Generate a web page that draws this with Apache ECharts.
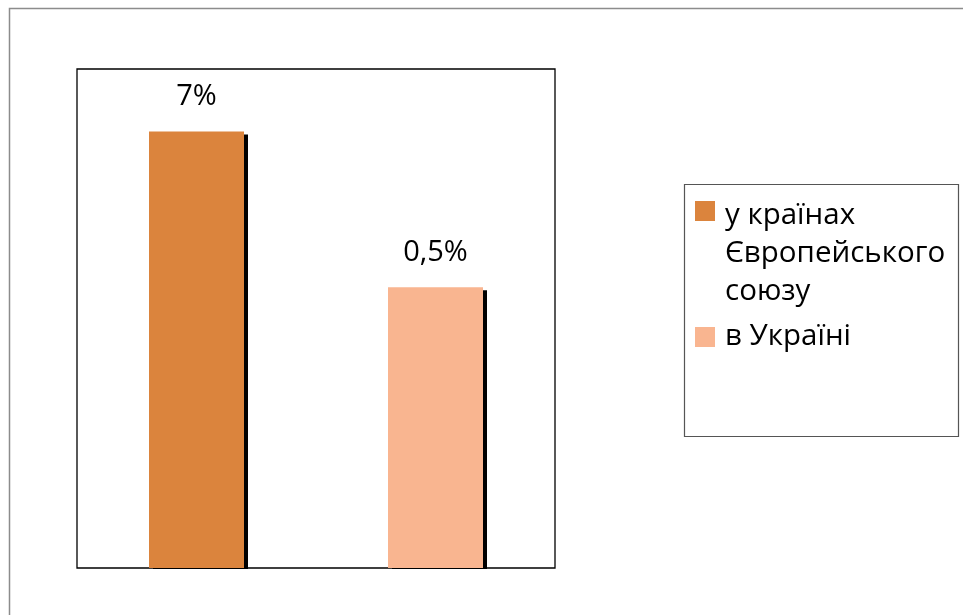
<!DOCTYPE html>
<html><head><meta charset="utf-8">
<script src="https://cdn.jsdelivr.net/npm/echarts@6/dist/echarts.min.js"></script>
<style>html,body{margin:0;padding:0;background:#fff}#c{width:963px;height:615px}</style>
</head><body><div id="c"></div>
<script>
const categories = ['ЄС', 'Україна'];
const seriesNames = ['у країнах\nЄвропейського\nсоюзу', 'в Україні'];
const barValues = [7, 4.5];
const barLabels = ['7%', '0,5%'];
const colors = ['#DB843D', '#F9B590'];

const FONT = 'Open Sans';
const chart = echarts.init(document.getElementById('c'), null, {renderer: 'canvas'});
const txt = {fontSize: 29.5, lineHeight: 38, color: '#000', fontFamily: FONT};

const option = {
  animation: false,
  backgroundColor: '#fff',
  grid: {left: 77, top: 69, width: 478, height: 499, show: true, borderColor: '#000', borderWidth: 1.3, backgroundColor: 'transparent', containLabel: false},
  xAxis: {type: 'category', data: categories, axisLine: {show: false}, axisTick: {show: false}, axisLabel: {show: false}, splitLine: {show: false}},
  yAxis: {type: 'value', min: 0, max: 8, show: false, splitLine: {show: false}},
  legend: [
    {data: [seriesNames[0]], left: 695, top: 197, orient: 'vertical', padding: 0,
     itemWidth: 25, itemHeight: 114,
     icon: 'path://M0,0h0.01v0.01z M0,4h20v20h-20z M25,114h-0.01v-0.01z',
     textStyle: txt, selectedMode: false},
    {data: [seriesNames[1]], left: 695, top: 318, orient: 'vertical', padding: 0,
     itemWidth: 25, itemHeight: 20,
     icon: 'path://M0,0h20v20h-20z M25,20h-0.01v-0.01z',
     textStyle: txt, selectedMode: false}
  ],
  series: seriesNames.map((n, i) => ({
    name: n,
    type: 'bar',
    barWidth: 95,
    barGap: '-100%',
    data: categories.map((c, j) => j === i ? barValues[j] : '-'),
    itemStyle: {color: colors[i], shadowColor: '#000', shadowOffsetX: 4, shadowOffsetY: 3, shadowBlur: 0},
    label: {show: true, position: 'top', distance: 20, fontSize: 29, color: '#000', fontFamily: FONT,
      formatter: p => barLabels[p.dataIndex]}
  })),
  graphic: [
    {type: 'rect', z: 100, silent: true, shape: {x: 100, y: 569, width: 440, height: 8}, style: {fill: '#fff'}},
    {type: 'rect', z: -10, silent: true, shape: {x: 9.5, y: 8.5, width: 1000, height: 700}, style: {fill: null, stroke: '#8c8c8c', lineWidth: 1.5}},
    {type: 'rect', z: -10, silent: true, shape: {x: 684.5, y: 184.5, width: 274, height: 252}, style: {fill: null, stroke: '#555', lineWidth: 1.2}}
  ]
};
chart.setOption(option);
</script></body></html>
